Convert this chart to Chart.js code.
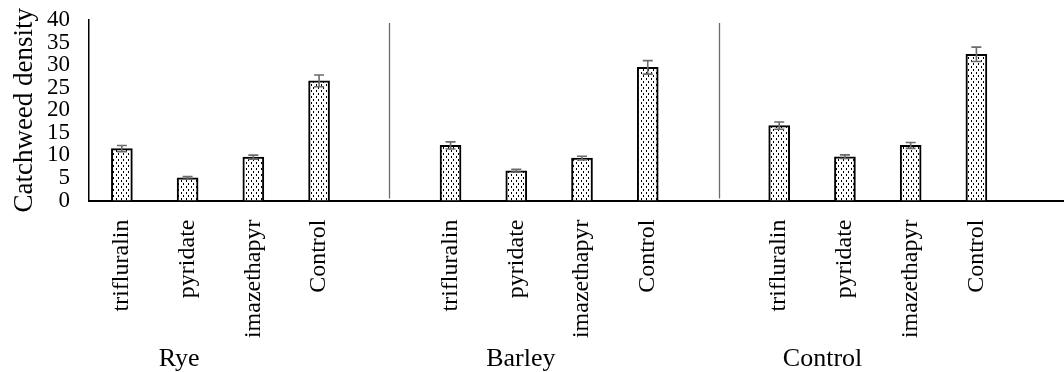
<!DOCTYPE html>
<html>
<head>
<meta charset="utf-8">
<title>Catchweed density</title>
<script src="https://cdn.jsdelivr.net/npm/chart.js@4/dist/chart.umd.min.js"></script>
<style>
  html, body { margin: 0; padding: 0; background: #fff; overflow: hidden; }
  #wrap { width: 1075px; height: 372px; }
</style>
</head>
<body>
<div id="wrap"><canvas id="chart"></canvas></div>
<script>
/* ================= DATA ================= */
// one empty slot after each group, as in the original sheet
const categories = [
  "trifluralin", "pyridate", "imazethapyr", "Control", "",
  "trifluralin", "pyridate", "imazethapyr", "Control", "",
  "trifluralin", "pyridate", "imazethapyr", "Control", ""
];
const groups = ["Rye", "Barley", "Control"];
const density = [11.5, 5.0, 9.6, 26.5, null, 12.2, 6.6, 9.4, 29.5, null, 16.6, 9.7, 12.2, 32.4, null];
const stdErr  = [0.7, 0.3, 0.45, 1.3, null, 0.8, 0.3, 0.4, 1.5, null, 0.8, 0.4, 0.65, 1.6, null];

/* ================= LAYOUT ================= */
const FONT = "'Liberation Serif', 'Times New Roman', serif";
const groupLabelAt = [0.87, 6.07, 10.66];   // category index where each group name sits
const dividerAt = [4.06, 9.09];              // category index of the group dividers

/* ================= PATTERN ================= */
function dotPattern(ctx) {
    const tile = document.createElement("canvas");
    tile.width = 5;
    tile.height = 6;
    const t = tile.getContext("2d");
    t.fillStyle = "#fff";
    t.fillRect(0, 0, 5, 6);
    t.fillStyle = "#000";
    t.fillRect(1, 0, 1, 2);
    t.fillRect(3, 3, 1, 2);
    return ctx.createPattern(tile, "repeat");
}

/* ================= PLUGINS ================= */
const errorBars = {
    id: "errorBars",
    afterDatasetsDraw(chart) {
        const ctx = chart.ctx;
        const y = chart.scales.y;
        const meta = chart.getDatasetMeta(0);
        ctx.save();
        ctx.strokeStyle = "#6b6b6b";
        ctx.lineWidth = 1.6;
        meta.data.forEach((bar, i) => {
            if (density[i] == null) return;
            const top = y.getPixelForValue(density[i] + stdErr[i]);
            const bot = y.getPixelForValue(density[i] - stdErr[i]);
            ctx.beginPath();
            ctx.moveTo(bar.x, top);
            ctx.lineTo(bar.x, bot);
            ctx.moveTo(bar.x - 5, top);
            ctx.lineTo(bar.x + 5, top);
            ctx.moveTo(bar.x - 5, bot);
            ctx.lineTo(bar.x + 5, bot);
            ctx.stroke();
        });
        ctx.restore();
    }
};

const groupAxis = {
    id: "groupAxis",
    afterDraw(chart) {
        const ctx = chart.ctx;
        const x = chart.scales.x;
        const area = chart.chartArea;
        ctx.save();
        ctx.strokeStyle = "#6b6b6b";
        ctx.lineWidth = 1.3;
        dividerAt.forEach(v => {
            const px = Math.round(x.getPixelForValue(v)) + 0.5;
            ctx.beginPath();
            ctx.moveTo(px, area.top + 3);
            ctx.lineTo(px, area.bottom - 2);
            ctx.stroke();
        });
        ctx.fillStyle = "#000";
        ctx.font = "26px " + FONT;
        ctx.textAlign = "center";
        ctx.textBaseline = "alphabetic";
        groups.forEach((g, i) => {
            ctx.fillText(g, x.getPixelForValue(groupLabelAt[i]), 366);
        });
        ctx.restore();
    }
};

/* ================= CHART ================= */
const canvas = document.getElementById("chart");

new Chart(canvas, {
    type: "bar",
    data: {
        labels: categories,
        datasets: [{
            data: density,
            backgroundColor: dotPattern(canvas.getContext("2d")),
            borderColor: "#000",
            borderWidth: 2,
            barThickness: 21
        }]
    },
    options: {
        responsive: true,
        maintainAspectRatio: false,
        animation: false,
        layout: { padding: { top: 20, left: 0, right: 0, bottom: 0 } },
        plugins: {
            legend: { display: false },
            tooltip: { enabled: false }
        },
        scales: {
            x: {
                grid: { display: false, drawTicks: false },
                border: { display: true, color: "#000", width: 2 },
                ticks: {
                    autoSkip: false,
                    minRotation: 90,
                    maxRotation: 90,
                    padding: 19,
                    color: "#000",
                    font: { family: FONT, size: 24 }
                },
                afterFit(scale) {
                    scale.height = 171.5;
                    scale.paddingLeft = 0;
                    scale.paddingRight = 0;
                }
            },
            y: {
                min: 0,
                max: 40,
                grid: { display: false, drawTicks: false },
                border: { display: true, color: "#000", width: 1.5 },
                ticks: {
                    stepSize: 5,
                    autoSkip: false,
                    padding: 19,
                    color: "#000",
                    font: { family: FONT, size: 23 }
                },
                title: {
                    display: true,
                    text: "Catchweed density",
                    color: "#000",
                    font: { family: FONT, size: 27 },
                    padding: { top: 9, bottom: 0 }
                },
                afterFit(scale) {
                    scale.width = 89;
                    scale.paddingTop = 0;
                    scale.paddingBottom = 0;
                }
            }
        }
    },
    plugins: [errorBars, groupAxis]
});
</script>
</body>
</html>
